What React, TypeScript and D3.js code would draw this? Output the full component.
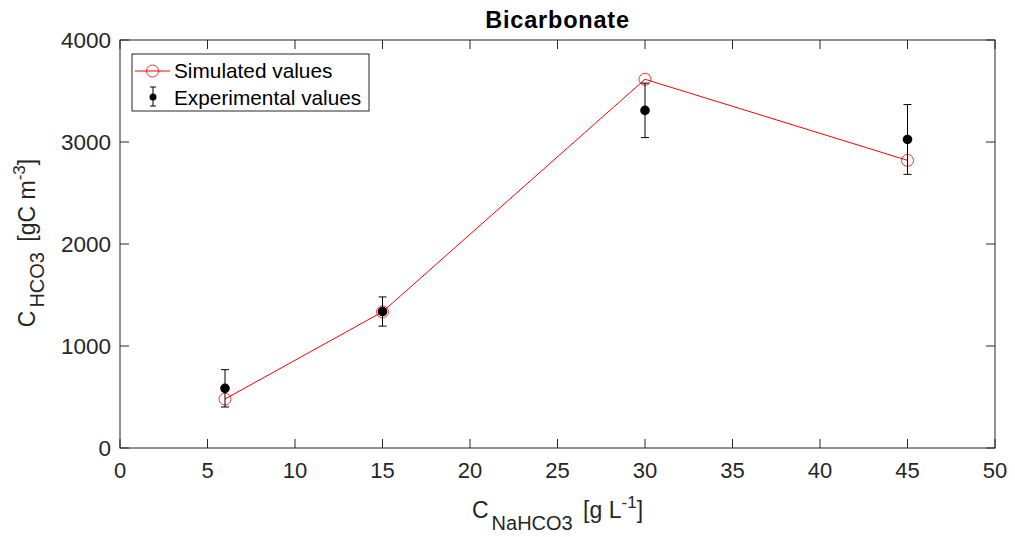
import React from "react";
import * as d3 from "d3";

const concentrations = [6, 15, 30, 45];
const simulated = [480, 1335, 3615, 2820];
const experimental = [585, 1338, 3310, 3025];
const experimentalErr = [183, 143, 267, 342];
const xTicks = [0, 5, 10, 15, 20, 25, 30, 35, 40, 45, 50];
const yTicks = [0, 1000, 2000, 3000, 4000];

const W = 1015;
const H = 537;
const M = { left: 120, right: 995, top: 40, bottom: 448 };
const FONT = "'Liberation Sans', Arial, Helvetica, sans-serif";
const AX = "#262626";

export default function App() {
  const x = d3.scaleLinear().domain([0, 50]).range([M.left, M.right]);
  const y = d3.scaleLinear().domain([0, 4000]).range([M.bottom, M.top]);
  const line = d3
    .line<number>()
    .x((_, i) => x(concentrations[i]))
    .y((d) => y(d));
  const tickLen = 9;
  const cap = 4;

  return (
    <svg
      width={W}
      height={H}
      style={{ position: "absolute", left: 0, top: 0, background: "#fff" }}
      fontFamily={FONT}
    >
      <rect x={0} y={0} width={W} height={H} fill="#fff" />
      {/* frame */}
      <rect
        x={M.left}
        y={M.top}
        width={M.right - M.left}
        height={M.bottom - M.top}
        fill="none"
        stroke={AX}
        strokeWidth={1}
      />
      {/* x ticks */}
      {xTicks.map((t) => (
        <g key={"xt" + t}>
          <line x1={x(t)} x2={x(t)} y1={M.bottom} y2={M.bottom - tickLen} stroke={AX} />
          <line x1={x(t)} x2={x(t)} y1={M.top} y2={M.top + tickLen} stroke={AX} />
          <text x={x(t)} y={478} textAnchor="middle" fontSize={22} fill={AX}>
            {t}
          </text>
        </g>
      ))}
      {/* y ticks */}
      {yTicks.map((t) => (
        <g key={"yt" + t}>
          <line x1={M.left} x2={M.left + tickLen} y1={y(t)} y2={y(t)} stroke={AX} />
          <line x1={M.right} x2={M.right - tickLen} y1={y(t)} y2={y(t)} stroke={AX} />
          <text x={M.left - 9} y={y(t) + 7.5} textAnchor="end" fontSize={22.5} fill={AX}>
            {t}
          </text>
        </g>
      ))}
      {/* title */}
      <text
        x={(M.left + M.right) / 2}
        y={28}
        textAnchor="middle"
        fontSize={23.5}
        letterSpacing={0.8}
        fontWeight="bold"
        fill="#000"
      >
        Bicarbonate
      </text>
      {/* x label */}
      <text x={(M.left + M.right) / 2} y={518} textAnchor="middle" fontSize={23} fill={AX}>
        C
        <tspan fontSize={20} dx={3} dy={12}>NaHCO3</tspan>
        <tspan dx={4} dy={-12}> [g L</tspan>
        <tspan fontSize={17} dy={-10}>-1</tspan>
        <tspan dy={10}>]</tspan>
      </text>
      {/* y label */}
      <text
        transform={`translate(35, ${(M.top + M.bottom) / 2 - 1}) rotate(-90)`}
        textAnchor="middle"
        fontSize={23}
        fill={AX}
      >
        C
        <tspan fontSize={20} dx={3} dy={9}>HCO3</tspan>
        <tspan dx={4} dy={-9}> [gC m</tspan>
        <tspan fontSize={17} dy={-10}>-3</tspan>
        <tspan dy={10}>]</tspan>
      </text>

      {/* simulated series */}
      <path d={line(simulated) || ""} fill="none" stroke="#ff0000" strokeWidth={1} />
      {simulated.map((v, i) => (
        <circle
          key={"s" + i}
          cx={x(concentrations[i])}
          cy={y(v)}
          r={6}
          fill="none"
          stroke="#ff0000"
          strokeWidth={0.8}
        />
      ))}

      {/* experimental series with error bars */}
      {experimental.map((v, i) => {
        const cx = x(concentrations[i]);
        const top = y(v + experimentalErr[i]);
        const bot = y(v - experimentalErr[i]);
        return (
          <g key={"e" + i}>
            <line x1={cx} x2={cx} y1={top} y2={bot} stroke="#000" strokeWidth={1} />
            <line x1={cx - cap} x2={cx + cap} y1={top} y2={top} stroke="#000" strokeWidth={1} />
            <line x1={cx - cap} x2={cx + cap} y1={bot} y2={bot} stroke="#000" strokeWidth={1} />
            <circle cx={cx} cy={y(v)} r={4.8} fill="#000" />
          </g>
        );
      })}

      {/* legend */}
      <g>
        <rect x={132} y={54} width={237} height={57} fill="#fff" stroke={AX} strokeWidth={1} />
        <line x1={135} x2={170} y1={71} y2={71} stroke="#ff0000" strokeWidth={1} />
        <circle cx={152.5} cy={71} r={6} fill="none" stroke="#ff0000" strokeWidth={0.8} />
        <text x={174} y={77.5} fontSize={20.8} fill="#000">
          Simulated values
        </text>
        <line x1={153} x2={153} y1={87} y2={106} stroke="#000" strokeWidth={1} />
        <line x1={150} x2={156} y1={87} y2={87} stroke="#000" strokeWidth={1} />
        <line x1={150} x2={156} y1={106} y2={106} stroke="#000" strokeWidth={1} />
        <circle cx={153} cy={97} r={3.5} fill="#000" />
        <text x={174} y={104.5} fontSize={20.8} fill="#000">
          Experimental values
        </text>
      </g>
    </svg>
  );
}
